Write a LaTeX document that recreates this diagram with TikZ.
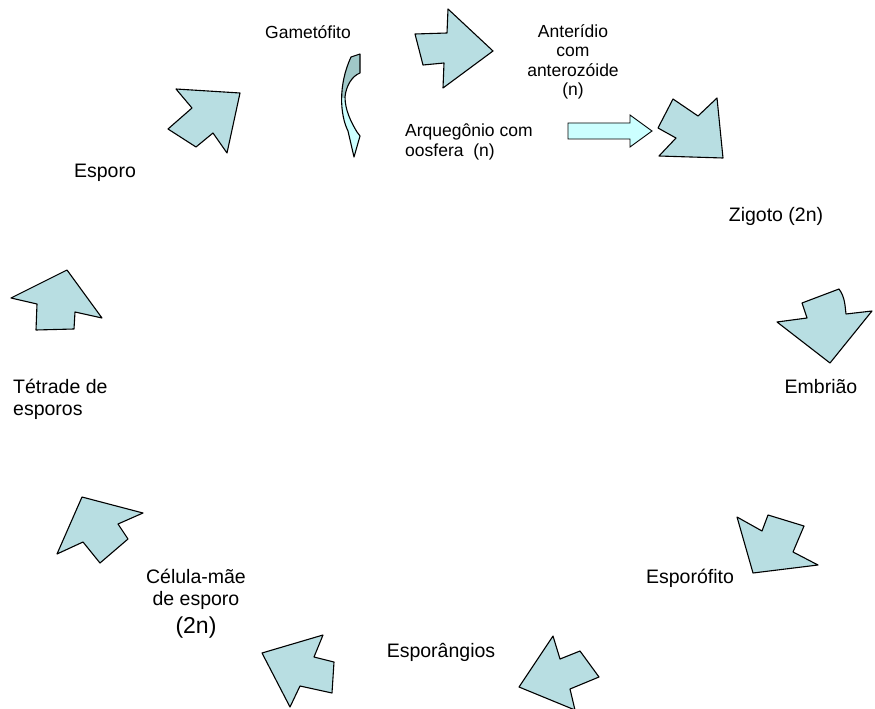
\documentclass[tikz,border=0pt]{standalone}
\usepackage{fontspec}
\setmainfont{Liberation Sans}
\definecolor{arrowfill}{RGB}{184,222,226}
\definecolor{lightcyan}{RGB}{204,255,255}
\definecolor{darkteal}{RGB}{160,200,200}
\tikzset{
  blockarrow/.style={draw=black, line width=1.1bp, fill=arrowfill, line join=round},
  straightarrow/.style={draw=black, line width=0.9bp, fill=lightcyan, line join=miter},
  lbl/.style={inner sep=0pt, font=\fontsize{19.5bp}{22bp}\selectfont},
  smalllbl/.style={inner sep=0pt, font=\fontsize{17.5bp}{19.5bp}\selectfont}
}
\begin{document}
\begin{tikzpicture}[x=1bp, y=-1bp]
\useasboundingbox (0,0) rectangle (875,709);
\fill[white] (0,0) rectangle (875,709);

% labels
\node[smalllbl] (gam) at (308,32) {Gametófito};
\node[smalllbl, align=center] (ant) at (573,62) {Anterídio\\com\\anterozóide\\(n)};
\node[smalllbl, align=left, anchor=west] (arq) at (405,142) {Arquegônio com\\oosfera\ \ (n)};
\node[lbl] (esp) at (105,173) {Esporo};
\node[lbl] (zig) at (776,216) {Zigoto (2n)};
\node[lbl] (emb) at (821,387) {Embrião};
\node[lbl, align=left, anchor=west] (tet) at (13,399) {Tétrade de\\esporos};
\node[lbl, align=center, anchor=north] (cel) at (196,569) {Célula-mãe\\de esporo\\[6bp]{\fontsize{23bp}{26bp}\selectfont (2n)}};
\node[lbl] (espf) at (690,578) {Esporófito};
\node[lbl] (espg) at (441,652) {Esporângios};

% block arrows around the cycle
\draw[blockarrow] (176,89) -- (240,93) -- (227,153) -- (213,133) -- (196,147) -- (168,129) -- (192,108) -- cycle;
\draw[blockarrow] (415,34) -- (447,33) -- (448,9) -- (493,51) -- (443,88) -- (444,63) -- (423,65) -- cycle;
\draw[blockarrow] (673,99) -- (698,116) -- (717,98) -- (723,158) -- (659,156) -- (676,138) -- (658,128) -- cycle;
\draw[blockarrow] (802,303) -- (839,289) .. controls (845,297) and (845,306) .. (846,314) -- (872,311) -- (830,363) -- (777,322) -- (807,318) -- cycle;
\draw[blockarrow] (737,517) -- (762,531) -- (768,515) -- (804,526) -- (793,552) -- (818,565) -- (753,573) -- cycle;
\draw[blockarrow] (553,636) -- (560,659) -- (580,651) -- (599,677) -- (570,689) -- (575,710) -- (519,687) -- cycle;
\draw[blockarrow] (323,635) -- (314,657) -- (334,662) -- (332,693) -- (300,686) -- (290,707) -- (262,653) -- cycle;
\draw[blockarrow] (82,497) -- (143,513) -- (118,524) -- (128,539) -- (100,563) -- (83,542) -- (57,554) -- cycle;
\draw[blockarrow] (11,298) -- (67,270) -- (102,318) -- (75,312) -- (74,329) -- (36,330) -- (37,304) -- cycle;

% straight arrow
\draw[straightarrow] (568,123) -- (630,123) -- (630,115) -- (652,131) -- (630,147) -- (630,139) -- (568,139) -- cycle;

% curved arrow near the gametophyte
\begin{scope}
  \clip (351,57) -- (360,54) -- (360,73) .. controls (352,76) and (346,86) .. (345,97)
        .. controls (345,110) and (351,122) .. (357,132) -- (360,136) -- (354,157) -- (348,131)
        .. controls (340,115) and (338,85) .. (351,57) -- cycle;
  \fill[darkteal] (330,40) rectangle (370,98);
  \fill[lightcyan] (330,98) rectangle (370,170);
\end{scope}
\draw[line width=1.1bp, line join=round] (351,57) -- (360,54) -- (360,73) .. controls (352,76) and (346,86) .. (345,97)
        .. controls (345,110) and (351,122) .. (357,132) -- (360,136) -- (354,157) -- (348,131)
        .. controls (340,115) and (338,85) .. (351,57) -- cycle;
\end{tikzpicture}
\end{document}
